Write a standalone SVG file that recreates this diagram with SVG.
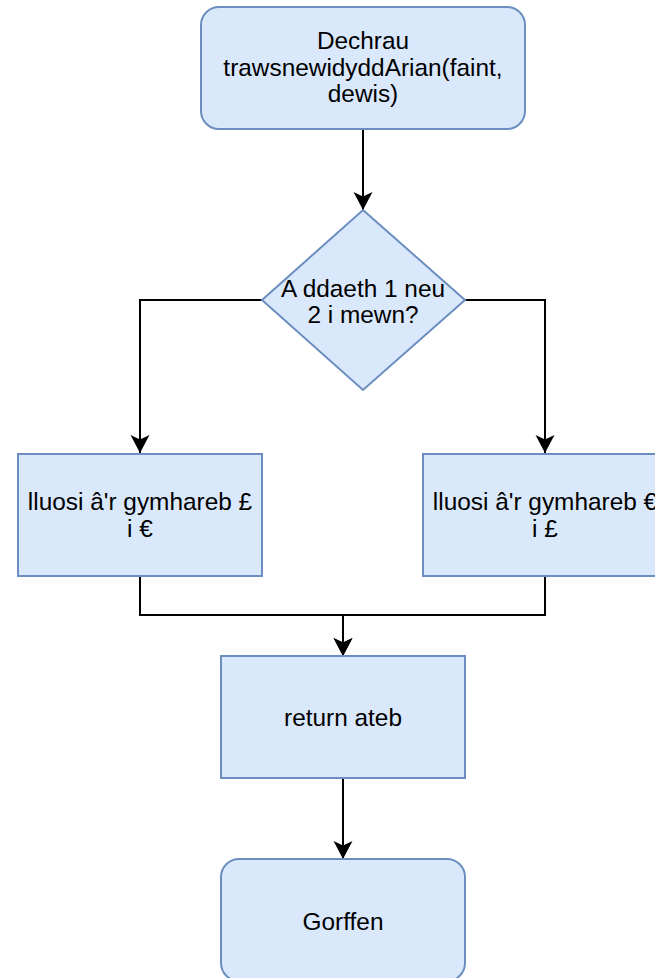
<svg xmlns="http://www.w3.org/2000/svg" width="655" height="978" viewBox="0 0 655 978">
  <style>
    .node { fill: #dae8fc; stroke: #6c8ebf; stroke-width: 2; }
    .label { font-family: "Liberation Sans", Arial, Helvetica, sans-serif; font-size: 24.4px; fill: #000; text-anchor: middle; }
    .edge { fill: none; stroke: #000; stroke-width: 2; }
  </style>
  <defs>
    <marker id="arrow" markerUnits="userSpaceOnUse" markerWidth="20" markerHeight="20" viewBox="0 0 20 20" refX="18" refY="10" orient="auto">
      <path d="M18,10 L0,0.5 L4.5,10 L0,19.5 Z" fill="#000"/>
    </marker>
  </defs>
  <rect width="655" height="978" fill="#fff"/>

  <g id="connectors">
    <path class="edge" d="M363,129 V210" marker-end="url(#arrow)"/>
    <path class="edge" d="M262,300 H140 V453" marker-end="url(#arrow)"/>
    <path class="edge" d="M465,300 H545 V453" marker-end="url(#arrow)"/>
    <path class="edge" d="M140,576 V615 H343 V656" marker-end="url(#arrow)"/>
    <path class="edge" d="M545,576 V615 H343 V656" marker-end="url(#arrow)"/>
    <path class="edge" d="M343,778 V859" marker-end="url(#arrow)"/>
  </g>

  <g id="start">
    <rect class="node" x="201" y="7" width="324" height="122" rx="18" ry="18"/>
    <text class="label" x="363" y="49">Dechrau</text>
    <text class="label" x="363" y="75.5">trawsnewidyddArian(faint,</text>
    <text class="label" x="363" y="102">dewis)</text>
  </g>

  <g id="decision">
    <polygon class="node" points="363,210 465,300 363,390 262,300"/>
    <text class="label" x="363" y="297">A ddaeth 1 neu</text>
    <text class="label" x="363" y="323">2 i mewn?</text>
  </g>

  <g id="gbp-to-eur">
    <rect class="node" x="18" y="454" width="244" height="122"/>
    <text class="label" x="140" y="510">lluosi â'r gymhareb £</text>
    <text class="label" x="140" y="537">i €</text>
  </g>

  <g id="eur-to-gbp">
    <rect class="node" x="423" y="454" width="244" height="122"/>
    <text class="label" x="545" y="510">lluosi â'r gymhareb €</text>
    <text class="label" x="545" y="537">i £</text>
  </g>

  <g id="return">
    <rect class="node" x="221" y="656" width="244" height="122"/>
    <text class="label" x="343" y="726">return ateb</text>
  </g>

  <g id="end">
    <rect class="node" x="221" y="859" width="244" height="122" rx="18" ry="18"/>
    <text class="label" x="343" y="930">Gorffen</text>
  </g>
</svg>
